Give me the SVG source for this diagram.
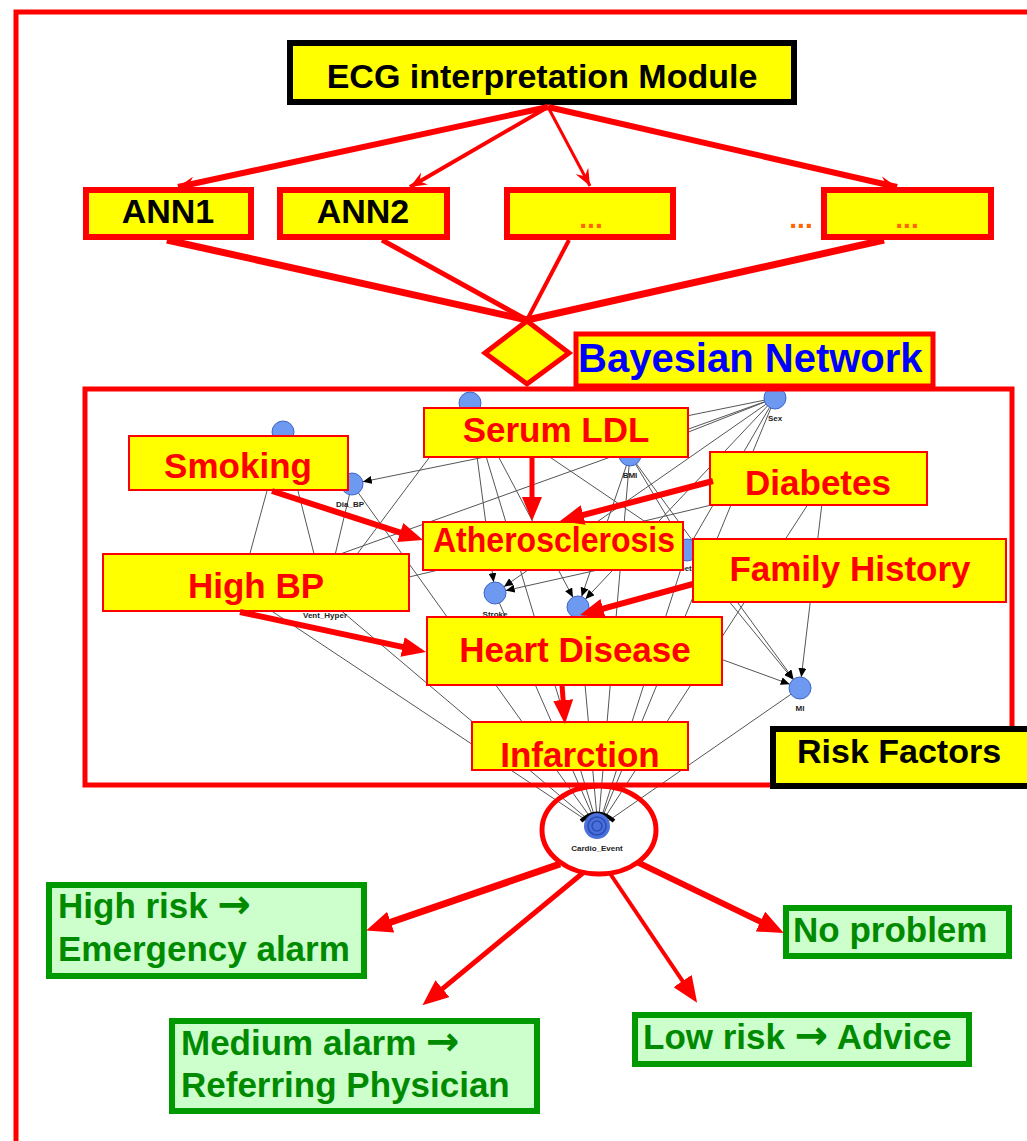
<svg xmlns="http://www.w3.org/2000/svg" width="1027" height="1141" viewBox="0 0 1027 1141">
<style>
.t{font-family:"Liberation Sans",Arial,sans-serif;font-weight:bold}
.blk{fill:#000;font-size:34px}
.red{fill:#ff0000;font-size:35px}
.grn{fill:#008a00;font-size:35px}
.arr{font-family:"DejaVu Sans",sans-serif;font-weight:bold;font-size:40px}
.dots{fill:#ff6600;font-size:28px}
.ybox{fill:#ffff00;stroke:#ff0000;stroke-width:2}
.abox{fill:#ffff00;stroke:#ff0000;stroke-width:6}
.gbox{fill:#ccffcc;stroke:#009900;stroke-width:6}
.kbox{fill:#ffff00;stroke:#000;stroke-width:6}
.ra{stroke:#ff0000;fill:none;stroke-linecap:butt}
.nl{stroke:#555;stroke-width:1;fill:none}
.bn{fill:#6d99f0;stroke:#3f66c6;stroke-width:1}
.nt{font-family:"Liberation Sans",Arial,sans-serif;font-weight:bold;font-size:8px;fill:#222;text-anchor:middle}
</style>
<defs>
<marker id="ah" markerUnits="userSpaceOnUse" markerWidth="24" markerHeight="20" refX="14" refY="10" orient="auto"><path d="M0,0 L24,10 L0,20 z" fill="#ff0000"/></marker>
<marker id="ahb" markerUnits="userSpaceOnUse" markerWidth="26" markerHeight="22" refX="14" refY="11" orient="auto"><path d="M0,0 L26,11 L0,22 z" fill="#ff0000"/></marker>
<marker id="chev" markerUnits="userSpaceOnUse" markerWidth="18" markerHeight="14" refX="17" refY="7" orient="auto"><path d="M0,0 L17,7 L0,14 L6,7 z" fill="#ff0000"/></marker>
<marker id="na" markerUnits="userSpaceOnUse" markerWidth="9" markerHeight="8" refX="9" refY="4" orient="auto"><path d="M0,0 L9,4 L0,8 z" fill="#000"/></marker>
</defs>
<rect width="1027" height="1141" fill="#ffffff"/>
<rect id="outer-frame" x="16" y="12" width="1100" height="1200" fill="none" stroke="#ff0000" stroke-width="5"/>

<g id="bayes-network-image">
<g class="nl">
<line x1="283" y1="432" x2="240" y2="590"/>
<line x1="283" y1="432" x2="325" y2="597"/>
<line x1="470" y1="403" x2="325" y2="597"/>
<line x1="775" y1="398" x2="362.8" y2="481.8" marker-end="url(#na)"/>
<line x1="775" y1="398" x2="240" y2="590"/>
<line x1="352" y1="484" x2="325" y2="597"/>
<line x1="352" y1="484" x2="598" y2="828"/>
<line x1="240" y1="590" x2="598" y2="828"/>
<line x1="325" y1="597" x2="598" y2="828"/>
<line x1="495" y1="593" x2="598" y2="828"/>
<line x1="470" y1="403" x2="598" y2="828"/>
<line x1="578" y1="607" x2="598" y2="828"/>
<line x1="630" y1="455" x2="598" y2="828"/>
<line x1="687" y1="550" x2="598" y2="828"/>
<line x1="775" y1="398" x2="598" y2="828"/>
<line x1="825" y1="478" x2="598" y2="828"/>
<line x1="800" y1="688" x2="598" y2="828"/>
<line x1="825" y1="478" x2="325" y2="597"/>
<line x1="825" y1="478" x2="801.3" y2="677.1" marker-end="url(#na)"/>
<line x1="687" y1="550" x2="793" y2="679.5" marker-end="url(#na)"/>
<line x1="630" y1="455" x2="793.5" y2="679.1" marker-end="url(#na)"/>
<line x1="578" y1="607" x2="789.7" y2="684.2" marker-end="url(#na)"/>
<line x1="470" y1="403" x2="493.6" y2="582.1" marker-end="url(#na)"/>
<line x1="687" y1="550" x2="505.7" y2="590.6" marker-end="url(#na)"/>
<line x1="775" y1="398" x2="504" y2="586.7" marker-end="url(#na)"/>
<line x1="470" y1="403" x2="572.9" y2="597.3" marker-end="url(#na)"/>
<line x1="630" y1="455" x2="581.6" y2="596.6" marker-end="url(#na)"/>
<line x1="775" y1="398" x2="585.5" y2="599" marker-end="url(#na)"/>
<line x1="630" y1="455" x2="681.3" y2="540.6" marker-end="url(#na)"/>
<line x1="775" y1="398" x2="687" y2="550"/>
<line x1="775" y1="398" x2="630" y2="455"/>
<line x1="470" y1="403" x2="687" y2="550"/>
</g>
<circle class="bn" cx="283" cy="432" r="11"/>
<circle class="bn" cx="470" cy="403" r="11"/>
<circle class="bn" cx="352" cy="484" r="11"/>
<circle class="bn" cx="775" cy="398" r="11"/>
<circle class="bn" cx="630" cy="455" r="11"/>
<circle class="bn" cx="687" cy="550" r="11"/>
<circle class="bn" cx="495" cy="593" r="11"/>
<circle class="bn" cx="578" cy="607" r="11"/>
<circle class="bn" cx="325" cy="597" r="11"/>
<circle class="bn" cx="240" cy="590" r="11"/>
<circle class="bn" cx="825" cy="478" r="11"/>
<circle class="bn" cx="800" cy="688" r="11"/>
<text class="nt" x="350" y="507">Dia_BP</text>
<text class="nt" x="775" y="421">Sex</text>
<text class="nt" x="630" y="478">BMI</text>
<text class="nt" x="684" y="571">Diabetes</text>
<text class="nt" x="495" y="617">Stroke</text>
<text class="nt" x="325" y="618">Vent_Hyper</text>
<text class="nt" x="800" y="711">MI</text>
</g>

<rect id="risk-frame" x="85" y="389" width="927" height="396" fill="none" stroke="#ff0000" stroke-width="5"/>

<g id="node-ecg"><rect class="kbox" x="290" y="43" width="504" height="59"/><text class="t blk" x="542" y="88" text-anchor="middle" font-size="36">ECG interpretation Module</text></g>
<g id="node-ann1"><rect class="abox" x="86" y="190" width="165" height="47"/><text class="t blk" x="168" y="223" text-anchor="middle">ANN1</text></g>
<g id="node-ann2"><rect class="abox" x="280" y="190" width="167" height="47"/><text class="t blk" x="363" y="223" text-anchor="middle">ANN2</text></g>
<g id="node-ann3"><rect class="abox" x="507" y="190" width="166" height="47"/><text class="t dots" x="591" y="228" text-anchor="middle">...</text></g>
<g id="node-gap"><text class="t dots" x="801" y="228" text-anchor="middle">...</text></g>
<g id="node-ann4"><rect class="abox" x="824" y="190" width="167" height="47"/><text class="t dots" x="907" y="228" text-anchor="middle">...</text></g>
<g id="node-diamond"><polygon points="527,321 569,353 527,384 485,353" fill="#ffff00" stroke="#ff0000" stroke-width="5"/></g>
<g id="node-bayes"><rect x="576" y="334" width="357" height="52" fill="#ffff00" stroke="#ff0000" stroke-width="5"/><text class="t" x="578" y="372" fill="#0000ff" font-size="40">Bayesian Network</text></g>

<g id="node-smoking"><rect class="ybox" x="129" y="436" width="219" height="54"/><text class="t red" x="238" y="478" text-anchor="middle">Smoking</text></g>
<g id="node-serum"><rect class="ybox" x="424" y="408" width="264" height="49"/><text class="t red" x="556" y="442" text-anchor="middle">Serum LDL</text></g>
<g id="node-diabetes"><rect class="ybox" x="710" y="452" width="217" height="53"/><text class="t red" x="818" y="495" text-anchor="middle">Diabetes</text></g>
<g id="node-athero"><rect class="ybox" x="423" y="522" width="260" height="48"/><text class="t red" x="433" y="552" font-size="32" textLength="242" lengthAdjust="spacingAndGlyphs">Atherosclerosis</text></g>
<g id="node-family"><rect class="ybox" x="693" y="539" width="313" height="63"/><text class="t red" x="850" y="581" text-anchor="middle">Family History</text></g>
<g id="node-highbp"><rect class="ybox" x="103" y="554" width="306" height="57"/><text class="t red" x="256" y="598" text-anchor="middle">High BP</text></g>
<g id="node-heart"><rect class="ybox" x="427" y="617" width="295" height="68"/><text class="t red" x="575" y="662" text-anchor="middle">Heart Disease</text></g>
<g id="node-infarction"><rect class="ybox" x="472" y="722" width="216" height="48"/><text class="t red" x="580" y="767" text-anchor="middle">Infarction</text></g>
<g id="node-risk"><rect class="kbox" x="773" y="729" width="270" height="57"/><text class="t blk" x="797" y="763">Risk Factors</text></g>

<g id="node-cardio">
<ellipse cx="599" cy="830" rx="57" ry="44" fill="none" stroke="#ff0000" stroke-width="5"/>
<path d="M581,821 Q597,806 614,821" fill="none" stroke="#000" stroke-width="4"/>
<circle cx="597" cy="826" r="13" fill="#4b70d9"/>
<circle cx="597" cy="826" r="9" fill="none" stroke="#2a4cb8" stroke-width="1.5"/>
<circle cx="597" cy="826" r="5" fill="none" stroke="#2a4cb8" stroke-width="1.5"/>
<text class="nt" x="597" y="851">Cardio_Event</text>
</g>

<g id="node-highrisk"><rect class="gbox" x="49" y="885" width="315" height="91"/><text class="t grn" x="58" y="918">High risk <tspan class="arr">→</tspan></text><text class="t grn" x="58" y="961">Emergency alarm</text></g>
<g id="node-noproblem"><rect class="gbox" x="786" y="908" width="223" height="48"/><text class="t grn" x="793" y="942">No problem</text></g>
<g id="node-medium"><rect class="gbox" x="172" y="1021" width="365" height="90"/><text class="t grn" x="181" y="1055">Medium alarm <tspan class="arr">→</tspan></text><text class="t grn" x="181" y="1097">Referring Physician</text></g>
<g id="node-lowrisk"><rect class="gbox" x="635" y="1015" width="334" height="49"/><text class="t grn" x="643" y="1049">Low risk <tspan class="arr">→</tspan> Advice</text></g>

<g id="connectors">
<line class="ra" x1="548" y1="107" x2="178" y2="187" stroke-width="6" marker-end="url(#chev)"/>
<line class="ra" x1="548" y1="107" x2="410" y2="187" stroke-width="4" marker-end="url(#chev)"/>
<line class="ra" x1="548" y1="107" x2="590" y2="186" stroke-width="3" marker-end="url(#chev)"/>
<line class="ra" x1="548" y1="107" x2="897" y2="187" stroke-width="6" marker-end="url(#chev)"/>
<line class="ra" x1="167" y1="240" x2="527" y2="320" stroke-width="7"/>
<line class="ra" x1="382" y1="240" x2="527" y2="320" stroke-width="5"/>
<line class="ra" x1="569" y1="240" x2="527" y2="320" stroke-width="4"/>
<line class="ra" x1="884" y1="240" x2="527" y2="320" stroke-width="7"/>
<line class="ra" x1="272" y1="491" x2="413.5" y2="536.9" stroke-width="6" marker-end="url(#ah)"/>
<line class="ra" x1="532" y1="457" x2="532" y2="511" stroke-width="5" marker-end="url(#ah)"/>
<line class="ra" x1="713" y1="481" x2="569.7" y2="518.5" stroke-width="6" marker-end="url(#ah)"/>
<line class="ra" x1="693" y1="584" x2="589.6" y2="612.4" stroke-width="6" marker-end="url(#ah)"/>
<line class="ra" x1="240" y1="612" x2="416.2" y2="649.9" stroke-width="6" marker-end="url(#ah)"/>
<line class="ra" x1="562" y1="685" x2="564.2" y2="714" stroke-width="5" marker-end="url(#ah)"/>
<line class="ra" x1="560" y1="864" x2="377.5" y2="926.7" stroke-width="7" marker-end="url(#ahb)"/>
<line class="ra" x1="584" y1="872" x2="431.7" y2="997.6" stroke-width="5" marker-end="url(#ahb)"/>
<line class="ra" x1="609" y1="872" x2="690.4" y2="992.7" stroke-width="4" marker-end="url(#ahb)"/>
<line class="ra" x1="637" y1="862" x2="773" y2="927.7" stroke-width="6" marker-end="url(#ahb)"/>
</g>
</svg>
